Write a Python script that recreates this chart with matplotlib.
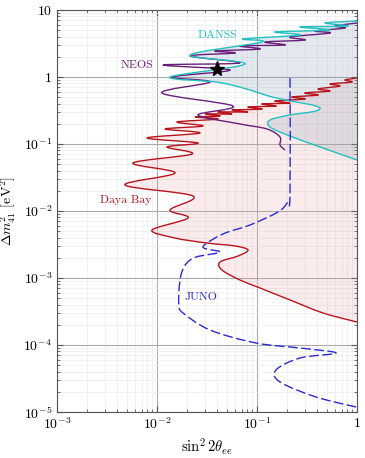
"""
Sterile neutrino exclusion contours in the (sin^2 2theta_ee, dm^2_41) plane
"""
import numpy as np
import matplotlib.pyplot as plt
from matplotlib.path import Path
from matplotlib.patches import PathPatch

plt.rcParams['mathtext.fontset'] = 'cm'
plt.rcParams['font.family'] = 'serif'
plt.rcParams['font.serif'] = ['cmr10', 'DejaVu Serif']
plt.rcParams['axes.formatter.use_mathtext'] = True

# Contours, stored as log10 values
db_log_s = [0.00, -0.12, -0.05, -0.27, -0.17, -0.39, -0.27, -0.52, -0.39, -0.65,
            -0.52, -0.82, -0.67, -0.95, -0.81, -1.09, -0.95, -1.25, -1.09, -1.39,
            -1.25, -1.52, -1.37, -1.62, -1.39, -1.80, -1.54, -1.92, -1.57, -2.10,
            -1.59, -1.90, -1.65, -2.24, -1.82, -2.32, -1.64, -1.87, -1.69, -2.05,
            -1.82, -1.50, -1.22, -1.09, -1.19, -1.37, -1.35, -1.17, -0.97, -0.67,
            -0.34, 0.00]
db_log_dm = [-0.015, -0.045, -0.075, -0.104, -0.134, -0.179, -0.209, -0.239, -0.269, -0.299,
             -0.328, -0.358, -0.388, -0.403, -0.433, -0.448, -0.478, -0.493, -0.522, -0.522,
             -0.552, -0.552, -0.582, -0.597, -0.627, -0.672, -0.731, -0.776, -0.836, -0.910,
             -0.985, -1.045, -1.149, -1.284, -1.433, -1.612, -1.776, -1.985, -2.104, -2.284,
             -2.403, -2.478, -2.522, -2.582, -2.672, -2.761, -2.881, -3.030, -3.149, -3.328,
             -3.522, -3.657]

neos_log_s = [0.00, -0.22, -0.12, -0.42, -0.27, -0.67, -0.52, -0.92, -0.72, -1.17,
              -0.97, -1.42, -1.22, -1.67, -1.17, -1.94, -1.27, -1.85, -1.47, -1.95,
              -1.24, -1.59, -1.17, -0.90, -0.77, -0.77, -0.72]
neos_log_dm = [0.806, 0.761, 0.731, 0.687, 0.657, 0.597, 0.552, 0.522, 0.478, 0.463,
               0.418, 0.388, 0.358, 0.313, 0.209, 0.179, 0.104, 0.000, -0.075, -0.239,
               -0.433, -0.567, -0.701, -0.776, -0.896, -1.015, -1.090]

danss_log_s = [0.00, -0.32, -0.09, -0.57, -0.27, -0.82, -0.57, -1.14, -0.95, -1.67,
               -1.12, -1.87, -1.41, -1.14, -0.81, -0.41, -0.41, -0.67, -0.87, -0.87,
               -0.67, -0.34, 0.00]
danss_log_dm = [0.836, 0.806, 0.761, 0.746, 0.701, 0.672, 0.627, 0.567, 0.522, 0.328,
                0.194, 0.000, -0.075, -0.164, -0.313, -0.433, -0.507, -0.567, -0.642, -0.746,
                -0.881, -1.060, -1.239]

juno_log_s = [-0.67, -0.67, -0.70, -0.79, -1.07, -1.34, -1.54, -1.37, -1.61, -1.71,
              -1.76, -1.78, -1.78, -1.74, -1.47, -1.01, -0.57, -0.21, -0.57, -0.81,
              -0.77, -0.41, -0.01]
juno_log_dm = [-0.015, -1.761, -1.881, -2.015, -2.209, -2.343, -2.537, -2.612, -2.687, -2.791,
               -2.955, -3.179, -3.403, -3.522, -3.776, -3.970, -4.045, -4.119, -4.194, -4.373,
               -4.552, -4.776, -4.925]

best_fit = (0.04, 1.3)

labels = ['DANSS', 'NEOS', 'Daya Bay', 'JUNO']
label_pos = [(0.040, 4.2), (0.0063, 1.5), (0.0049, 0.0146), (0.0275, 5.2e-4)]

c_red = '#b8141c'
c_purple = '#6a1e7a'
c_cyan = '#22c0c0'
c_blue = '#2a2ad0'
label_col = [c_cyan, c_purple, c_red, c_blue]


def smooth_path(ls, ld, close_right=False):
    """Smooth bezier path (catmull-rom in log space) through the read points"""
    P = np.column_stack([ls, ld])
    n = len(P)
    verts = [P[0]]
    codes = [Path.MOVETO]
    for i in range(n - 1):
        p0 = P[max(i - 1, 0)]
        p1 = P[i]
        p2 = P[i + 1]
        p3 = P[min(i + 2, n - 1)]
        verts += [p1 + (p2 - p0) / 6, p2 - (p3 - p1) / 6, p2]
        codes += [Path.CURVE4] * 3
    if close_right:
        verts += [np.array([0.0, P[0][1]]), P[0]]
        codes += [Path.LINETO, Path.CLOSEPOLY]
    return Path(10**np.array(verts), codes)


fig = plt.figure(figsize=(3.65, 4.58), dpi=100)
ax = fig.add_axes([57/365, 46/458, 300/365, 402/458])

ax.set_xscale('log')
ax.set_yscale('log')
ax.set_xlim(1e-3, 1)
ax.set_ylim(1e-5, 10)

# Fills (closed through the right edge sin^2 = 1)
ax.add_patch(PathPatch(smooth_path(db_log_s, db_log_dm, True), transform=ax.transData,
                       facecolor='#e8a0a0', alpha=0.2, lw=0, zorder=1))
ax.add_patch(PathPatch(smooth_path(danss_log_s, danss_log_dm, True), transform=ax.transData,
                       facecolor='#7a8fb0', alpha=0.2, lw=0, zorder=1))

# Contours
for ls, ld, c, style in [(db_log_s, db_log_dm, c_red, '-'),
                         (neos_log_s, neos_log_dm, c_purple, '-'),
                         (danss_log_s, danss_log_dm, c_cyan, '-'),
                         (juno_log_s, juno_log_dm, c_blue, (0, (7, 2.5)))]:
    ax.add_patch(PathPatch(smooth_path(ls, ld), transform=ax.transData,
                           facecolor='none', edgecolor=c, lw=1.0, ls=style, zorder=3))

ax.plot(*best_fit, marker='*', color='k', ms=11, zorder=5)

for lab, (lx, ly), c in zip(labels, label_pos, label_col):
    ax.text(lx, ly, lab, color=c, fontsize=8.5, ha='center', va='center', zorder=6)

# Axes
ax.set_xticks([1e-3, 1e-2, 1e-1, 1],
              [r'$10^{-3}$', r'$10^{-2}$', r'$10^{-1}$', r'$1$'])
ax.set_yticks([1e-5, 1e-4, 1e-3, 1e-2, 1e-1, 1, 10],
              [r'$10^{-5}$', r'$10^{-4}$', r'$10^{-3}$', r'$10^{-2}$',
               r'$10^{-1}$', r'$1$', r'$10$'])
ax.tick_params(which='both', direction='in', top=True, right=True,
               labelsize=10, color='#555555')
ax.tick_params(which='major', length=4)
ax.tick_params(which='minor', length=2)
ax.grid(which='major', color='#aaaaaa', lw=0.8, zorder=0)
ax.grid(which='minor', color='#ebebeb', lw=0.5, zorder=0)
ax.set_axisbelow(True)
for sp in ax.spines.values():
    sp.set_color('#555555')
    sp.set_linewidth(0.8)

ax.set_xlabel(r'$\sin^2 2\theta_{ee}$', fontsize=10.5, labelpad=3)
ax.set_ylabel(r'$\Delta m^2_{41}$ [eV$^2$]', fontsize=10)

fig.savefig('out.png', dpi=100)
